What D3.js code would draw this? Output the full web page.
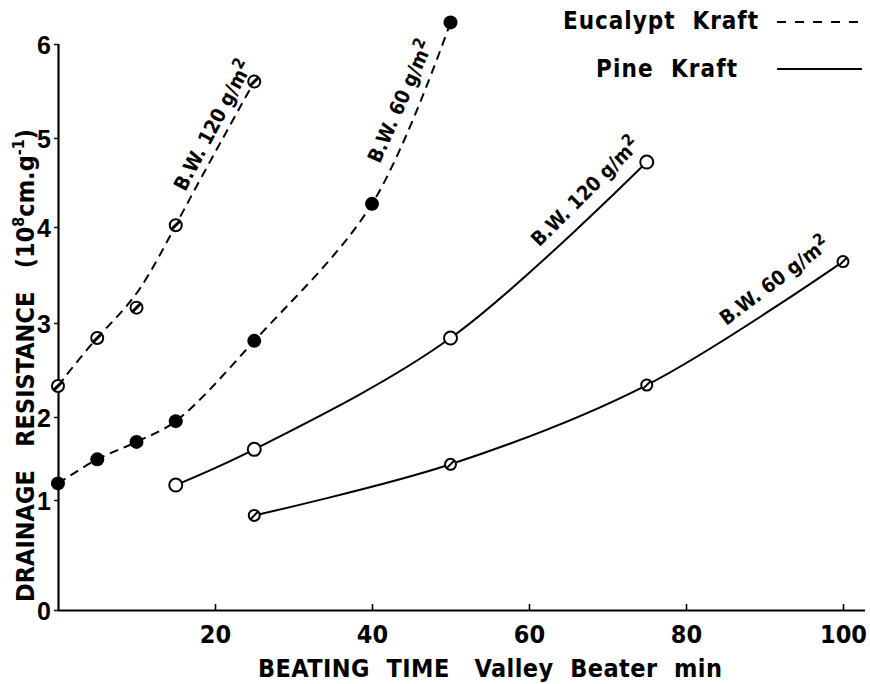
<!DOCTYPE html>
<html>
<head>
<meta charset="utf-8">
<script src="https://cdn.jsdelivr.net/npm/d3@7"></script>
<style>
  html, body { margin: 0; padding: 0; background: #fff; }
  svg { display: block; font-family: "DejaVu Sans Condensed", "DejaVu Sans", sans-serif; font-weight: bold; }
</style>
</head>
<body>
<svg id="chart" width="870" height="684"></svg>
<script>
// Beating time (min) and drainage resistance (10^8 cm/g) per pulp and basis weight
const beatingTicks = [20, 40, 60, 80, 100];
const resistanceTicks = [0, 1, 2, 3, 4, 5, 6];

const eucalypt120Time = [0, 5, 10, 15, 25];
const eucalypt120Res  = [2.33, 2.84, 3.16, 4.02, 5.6];

const eucalypt60Time = [0, 5, 10, 15, 25, 40, 50];
const eucalypt60Res  = [1.2, 1.49, 1.7, 1.95, 2.81, 4.26, 6.23];

const pine120Time = [15, 25, 50, 75];
const pine120Res  = [1.18, 1.61, 2.84, 4.73];

const pine60Time = [25, 50, 75, 100];
const pine60Res  = [0.86, 1.43, 2.34, 3.64];

const zip = (xs, ys) => xs.map((t, i) => ({ t, r: ys[i] }));

const series = [
  { name: "Eucalypt 120", pts: zip(eucalypt120Time, eucalypt120Res), dashed: true,  marker: "slash",
    smooth: 0.85, label: "B.W. 120 g/m", at: [20.5, 5.1], angle: -62 },
  { name: "Eucalypt 60",  pts: zip(eucalypt60Time, eucalypt60Res),   dashed: true,  marker: "filled",
    smooth: null, label: "B.W. 60 g/m",  at: [44.4, 5.36], angle: -66 },
  { name: "Pine 120",     pts: zip(pine120Time, pine120Res),         dashed: false, marker: "open",
    smooth: null, label: "B.W. 120 g/m", at: [67.8, 4.34], angle: -45 },
  { name: "Pine 60",      pts: zip(pine60Time, pine60Res),           dashed: false, marker: "slashSmall",
    smooth: null, label: "B.W. 60 g/m",  at: [91.8, 3.38], angle: -37 }
];

const svg = d3.select("#chart");

const x = d3.scaleLinear().domain([0, 100]).range([58, 843]);
// the printed resistance axis has slightly uneven tick spacing
const y = d3.scaleLinear().domain(resistanceTicks).range([610, 500, 417, 323, 227, 138, 44]);

// axes
const xAxis = d3.axisBottom(x).tickValues(beatingTicks).tickSizeInner(-6).tickSizeOuter(0).tickPadding(15);
const gx = svg.append("g").attr("transform", `translate(0,${y(0)})`).call(xAxis);
gx.select(".domain").attr("d", `M${x(0)},0.5H865`).attr("stroke-width", 2.2);
gx.selectAll(".tick line").attr("stroke-width", 1.6);
gx.selectAll(".tick text").attr("font-size", 25).attr("fill", "#000")
  .attr("font-family", "'DejaVu Sans Condensed', sans-serif");

const yAxis = d3.axisLeft(y).tickValues(resistanceTicks).tickFormat(d3.format("d"))
  .tickSizeInner(4).tickSizeOuter(0).tickPadding(3);
const gy = svg.append("g").attr("transform", `translate(${x(0)},0)`).call(yAxis);
gy.select(".domain").attr("d", `M0.5,${y(0)}V${y(6)}`).attr("stroke-width", 2.2);
gy.selectAll(".tick line").attr("stroke-width", 1.4);
gy.selectAll(".tick text").attr("font-size", 25).attr("fill", "#000").attr("dy", "0.36em");

// axis titles
svg.append("text")
  .attr("x", 258).attr("y", 677)
  .attr("font-size", 25)
  .attr("xml:space", "preserve")
  .attr("textLength", 464).attr("lengthAdjust", "spacing")
  .text("BEATING  TIME   Valley  Beater  min");

const yTitle = svg.append("text")
  .attr("transform", "translate(34,602) rotate(-90)")
  .attr("font-size", 25)
  .attr("xml:space", "preserve");
yTitle.append("tspan").text("DRAINAGE   RESISTANCE   (10");
yTitle.append("tspan").attr("font-size", 16).attr("dy", -10).text("8");
yTitle.append("tspan").attr("dy", 10).text("cm.g");
yTitle.append("tspan").attr("font-size", 16).attr("dy", -10).text("-1");
yTitle.append("tspan").attr("dy", 10).text(")");

// curves: the eucalypt 120 set is a smoothed fit, the others pass through the points
const lineThru = d3.line().x(d => x(d.t)).y(d => y(d.r)).curve(d3.curveCatmullRom.alpha(0.5));

series.forEach(s => {
  const gen = s.smooth
    ? d3.line().x(d => x(d.t)).y(d => y(d.r)).curve(d3.curveBundle.beta(s.smooth))
    : lineThru;
  svg.append("path")
    .datum(s.pts)
    .attr("d", gen)
    .attr("fill", "none")
    .attr("stroke", "#000")
    .attr("stroke-width", 2)
    .attr("stroke-dasharray", s.dashed ? "9,6" : null);
});

// markers
series.forEach(s => {
  const g = svg.append("g");
  const pts = g.selectAll("g").data(s.pts).join("g")
    .attr("transform", d => `translate(${x(d.t)},${y(d.r)})`);
  if (s.marker === "filled") {
    pts.append("circle").attr("r", 7).attr("fill", "#000");
  } else {
    const r = s.marker === "slashSmall" ? 5.5 : (s.marker === "slash" ? 6 : 6.5);
    pts.append("circle").attr("r", r).attr("fill", "#fff").attr("stroke", "#000").attr("stroke-width", 2);
    if (s.marker !== "open") {
      pts.append("line")
        .attr("x1", -r * 0.7).attr("y1", r * 0.7).attr("x2", r * 0.7).attr("y2", -r * 0.7)
        .attr("stroke", "#000").attr("stroke-width", s.marker === "slash" ? 3 : 2);
    }
  }
});

// curve labels
series.forEach(s => {
  const t = svg.append("text")
    .attr("transform", `translate(${x(s.at[0])},${y(s.at[1])}) rotate(${s.angle})`)
    .attr("text-anchor", "middle")
    .attr("font-size", 20);
  t.append("tspan").text(s.label);
  t.append("tspan").attr("font-size", 16).attr("dy", -8).text("2");
});

// legend
const legend = [
  { text: "Eucalypt  Kraft", dashed: true,  y: 22, x: 563, w: 195 },
  { text: "Pine  Kraft",     dashed: false, y: 70, x: 596, w: 141 }
];
legend.forEach(l => {
  svg.append("text")
    .attr("x", l.x).attr("y", l.y + 7)
    .attr("font-size", 24)
    .attr("xml:space", "preserve")
    .attr("textLength", l.w).attr("lengthAdjust", "spacing")
    .text(l.text);
  svg.append("line")
    .attr("x1", 777).attr("x2", 862)
    .attr("y1", l.y + (l.dashed ? 0 : -1)).attr("y2", l.y + (l.dashed ? 0 : -1))
    .attr("stroke", "#000").attr("stroke-width", 2)
    .attr("stroke-dasharray", l.dashed ? "9,9" : null);
});
</script>
</body>
</html>
